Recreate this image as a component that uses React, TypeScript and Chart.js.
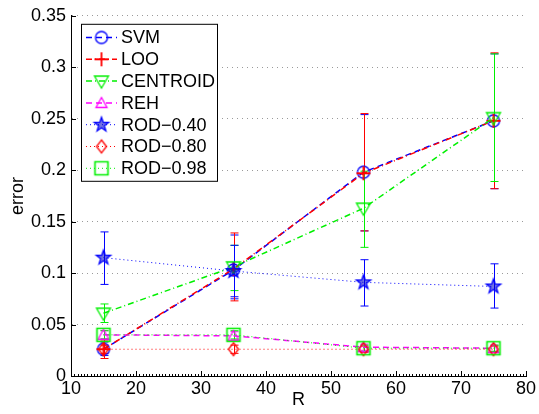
import React, { useEffect, useRef } from "react";
import { Chart, registerables } from "chart.js";

Chart.register(...registerables);

const xValues = [15, 35, 55, 75];
const xTickValues = [10, 20, 30, 40, 50, 60, 70, 80];
const yTickLabels = ["0", "0.05", "0.1", "0.15", "0.2", "0.25", "0.3", "0.35"];

const seriesNames = ["SVM", "LOO", "CENTROID", "REH", "ROD\u22120.40", "ROD\u22120.80", "ROD\u22120.98"];

const svmMean = [0.026, 0.103, 0.198, 0.248];
const svmLow = [0.02, 0.075, 0.141, 0.182];
const svmHigh = [0.033, 0.137, 0.254, 0.313];

const looMean = [0.026, 0.104, 0.197, 0.248];
const looLow = [0.017, 0.073, 0.141, 0.182];
const looHigh = [0.035, 0.139, 0.255, 0.314];

const centroidMean = [0.061, 0.106, 0.163, 0.251];
const centroidLow = [0.052, 0.083, 0.125, 0.189];
const centroidHigh = [0.07, 0.127, 0.199, 0.313];

const rehMean = [0.04, 0.039, 0.028, 0.027];
const rehLow = [0.036, 0.035, 0.025, 0.024];
const rehHigh = [0.044, 0.043, 0.031, 0.03];

const rod40Mean = [0.115, 0.102, 0.091, 0.087];
const rod40Low = [0.089, 0.077, 0.068, 0.066];
const rod40High = [0.14, 0.127, 0.113, 0.109];

const rod80Mean = [0.026, 0.026, 0.026, 0.026];
const rod80Low = [0.022, 0.022, 0.023, 0.023];
const rod80High = [0.03, 0.03, 0.029, 0.029];

const rod98Mean = [0.04, 0.04, 0.027, 0.027];
const rod98Low = [0.036, 0.036, 0.024, 0.024];
const rod98High = [0.044, 0.044, 0.03, 0.03];

const seriesMeans = [svmMean, looMean, centroidMean, rehMean, rod40Mean, rod80Mean, rod98Mean];
const seriesLows = [svmLow, looLow, centroidLow, rehLow, rod40Low, rod80Low, rod98Low];
const seriesHighs = [svmHigh, looHigh, centroidHigh, rehHigh, rod40High, rod80High, rod98High];

const seriesColors = ["#0000ff", "#ff0000", "#00f000", "#ff00ff", "#0000ff", "#ff0000", "#00f000"];
const seriesDash = [[6, 4], [6, 3, 1, 3], [6, 3, 1, 3], [6, 4], [1, 3], [1, 3], [1, 3]];
const seriesWidth = [1.5, 1.5, 1.5, 1.5, 1, 1, 1];
const seriesMarkers = ["circle", "plus", "triDown", "triUp", "star", "diamond", "square"];

const FONT = "'Liberation Sans', Arial, Helvetica, sans-serif";

function makeMarker(kind: string, color: string): HTMLCanvasElement {
  const c = document.createElement("canvas");
  c.width = 22;
  c.height = 22;
  const g = c.getContext("2d")!;
  g.translate(11, 11);
  g.strokeStyle = color;
  g.lineWidth = 1.3;
  g.beginPath();
  if (kind === "circle") {
    g.arc(0, 0, 6, 0, Math.PI * 2);
  } else if (kind === "plus") {
    g.lineWidth = 1.8;
    g.moveTo(-7, 0);
    g.lineTo(7, 0);
    g.moveTo(0, -7);
    g.lineTo(0, 7);
  } else if (kind === "triDown") {
    g.moveTo(-7, -5);
    g.lineTo(7, -5);
    g.lineTo(0, 7);
    g.closePath();
  } else if (kind === "triUp") {
    g.moveTo(-5.5, 4.5);
    g.lineTo(5.5, 4.5);
    g.lineTo(0, -5.5);
    g.closePath();
  } else if (kind === "star") {
    for (let k = 0; k < 10; k++) {
      const r = k % 2 === 0 ? 7.5 : 3.0;
      const a = -Math.PI / 2 + (k * Math.PI) / 5;
      const px = r * Math.cos(a);
      const py = r * Math.sin(a);
      if (k === 0) g.moveTo(px, py);
      else g.lineTo(px, py);
    }
    g.closePath();
    g.fillStyle = "rgba(0,0,200,0.55)";
    g.fill();
  } else if (kind === "diamond") {
    g.moveTo(0, -6.5);
    g.lineTo(5, 0);
    g.lineTo(0, 6.5);
    g.lineTo(-5, 0);
    g.closePath();
  } else if (kind === "square") {
    g.lineWidth = 1.6;
    g.rect(-6.5, -6.5, 13, 13);
  }
  g.stroke();
  return c;
}

export default function App() {
  const canvasRef = useRef<HTMLCanvasElement | null>(null);

  useEffect(() => {
    document.body.style.margin = "0";
    const canvas = canvasRef.current;
    if (!canvas) return;
    const markers = seriesMarkers.map((m, i) => makeMarker(m, seriesColors[i]));

    const errorBarPlugin = {
      id: "errorBars",
      beforeDatasetsDraw(chart: any) {
        const ctx = chart.ctx;
        const xs = chart.scales.x;
        const ys = chart.scales.y;
        ctx.save();
        seriesMeans.forEach((_, i) => {
          ctx.strokeStyle = seriesColors[i];
          ctx.lineWidth = 1;
          ctx.setLineDash([]);
          xValues.forEach((xv, j) => {
            const px = Math.round(xs.getPixelForValue(xv)) + 0.5;
            const lo = ys.getPixelForValue(seriesLows[i][j]);
            const hi = ys.getPixelForValue(seriesHighs[i][j]);
            ctx.beginPath();
            ctx.moveTo(px, lo);
            ctx.lineTo(px, hi);
            ctx.moveTo(px - 4, lo);
            ctx.lineTo(px + 4, lo);
            ctx.moveTo(px - 4, hi);
            ctx.lineTo(px + 4, hi);
            ctx.stroke();
          });
        });
        ctx.restore();
      },
    };

    const axesPlugin = {
      id: "inwardTicks",
      afterDraw(chart: any) {
        const ctx = chart.ctx;
        const xs = chart.scales.x;
        const ys = chart.scales.y;
        const area = chart.chartArea;
        ctx.save();
        ctx.strokeStyle = "#000";
        ctx.lineWidth = 1;
        ctx.beginPath();
        for (let v = 10; v <= 80.001; v += 0.5) {
          const px = Math.round(xs.getPixelForValue(v)) + 0.5;
          const major = Math.abs(v - Math.round(v / 10) * 10) < 1e-6;
          ctx.moveTo(px, area.bottom);
          ctx.lineTo(px, area.bottom - (major ? 5 : 2));
        }
        yTickLabels.forEach((_, k) => {
          const py = Math.round(ys.getPixelForValue(k * 0.05)) + 0.5;
          ctx.moveTo(area.left, py);
          ctx.lineTo(area.left + 5, py);
        });
        ctx.stroke();
        ctx.restore();
      },
    };

    const legendPlugin = {
      id: "matlabLegend",
      afterDatasetsDraw(chart: any) {
        const ctx = chart.ctx;
        const area = chart.chartArea;
        const x0 = area.left + 10;
        const y0 = area.top + 8;
        const w = 136;
        const h = 157;
        ctx.save();
        ctx.fillStyle = "#fff";
        ctx.fillRect(x0, y0, w, h);
        ctx.strokeStyle = "#000";
        ctx.lineWidth = 1;
        ctx.setLineDash([]);
        ctx.strokeRect(x0 + 0.5, y0 + 0.5, w, h);
        seriesNames.forEach((name, i) => {
          const y = y0 + 13.7 + i * 21.8;
          ctx.strokeStyle = seriesColors[i];
          ctx.lineWidth = seriesWidth[i];
          ctx.setLineDash(seriesDash[i]);
          ctx.beginPath();
          ctx.moveTo(x0 + 5, y);
          ctx.lineTo(x0 + 36, y);
          ctx.stroke();
          ctx.setLineDash([]);
          const m = markers[i];
          ctx.drawImage(m, x0 + 20.5 - m.width / 2, y - m.height / 2);
          ctx.fillStyle = "#000";
          ctx.font = `18px ${FONT}`;
          ctx.textBaseline = "middle";
          ctx.textAlign = "left";
          ctx.fillText(name, x0 + 40, y + 1);
        });
        ctx.restore();
      },
    };

    const datasets = seriesNames.map((name, i) => ({
      label: name,
      data: xValues.map((xv, j) => ({ x: xv, y: seriesMeans[i][j] })),
      borderColor: seriesColors[i],
      backgroundColor: "transparent",
      borderWidth: seriesWidth[i],
      borderDash: seriesDash[i],
      pointStyle: markers[i],
      pointRadius: 6,
      pointHoverRadius: 6,
      tension: 0,
      fill: false,
      order: seriesNames.length - i,
    }));

    const chart = new Chart(canvas, {
      type: "line",
      data: { datasets },
      options: {
        animation: false,
        responsive: false,
        events: [],
        layout: { padding: { left: 0, right: 13, top: 15, bottom: 0 } },
        plugins: {
          legend: { display: false },
          tooltip: { enabled: false },
        },
        scales: {
          x: {
            type: "linear",
            min: 10,
            max: 80,
            afterBuildTicks(scale: any) {
              scale.ticks = xTickValues.map((v) => ({ value: v }));
            },
            afterFit(scale: any) {
              scale.height = 38;
            },
            grid: { display: false, drawTicks: false },
            border: { display: true, color: "#000", width: 1 },
            ticks: {
              color: "#000",
              font: { family: FONT, size: 18 },
              padding: 2,
              maxRotation: 0,
              autoSkip: false,
              callback: (v: any) => String(v),
            },
            title: {
              display: true,
              text: "R",
              color: "#000",
              font: { family: FONT, size: 18 },
              padding: { top: 0, bottom: 3 },
            },
          },
          y: {
            type: "linear",
            min: 0,
            max: 0.35,
            afterBuildTicks(scale: any) {
              scale.ticks = yTickLabels.map((_, k) => ({ value: k * 0.05 }));
            },
            afterFit(scale: any) {
              scale.width = 71;
            },
            grid: { display: true, drawTicks: false, color: "#9a9a9a", lineWidth: 1 },
            border: { display: true, color: "#000", width: 1, dash: [1, 4] },
            ticks: {
              color: "#000",
              font: { family: FONT, size: 18 },
              padding: 5,
              autoSkip: false,
              callback: (_v: any, idx: number) => yTickLabels[idx],
            },
            title: {
              display: true,
              text: "error",
              color: "#000",
              font: { family: FONT, size: 18 },
              padding: { top: 7, bottom: 0 },
            },
          },
        },
      },
      plugins: [errorBarPlugin, legendPlugin, axesPlugin],
    });

    return () => chart.destroy();
  }, []);

  return (
    <div style={{ width: 539, height: 414, background: "#fff" }}>
      <canvas ref={canvasRef} width={539} height={414} />
    </div>
  );
}
